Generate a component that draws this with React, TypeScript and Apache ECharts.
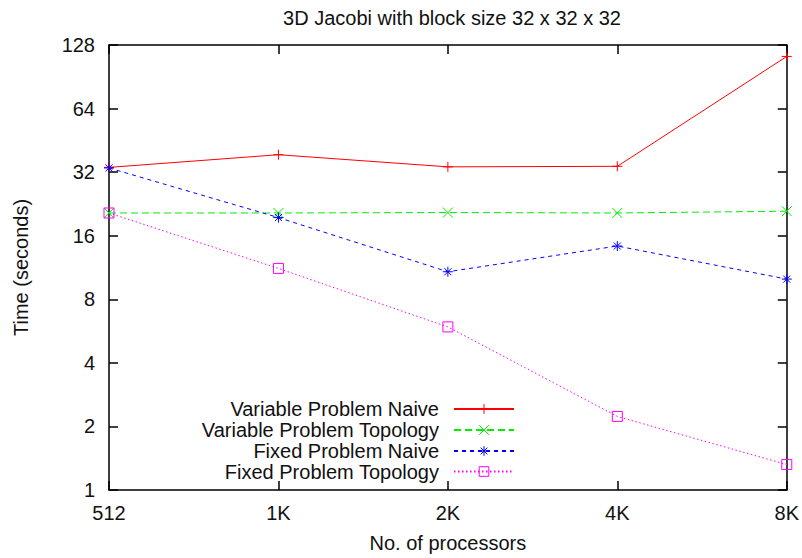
import React, { useEffect, useRef } from "react";
import * as echarts from "echarts";

const categories = ["512", "1K", "2K", "4K", "8K"];
const variableNaive = [33.7, 38.7, 33.9, 34.1, 113];
const variableTopology = [20.5, 20.5, 20.6, 20.5, 20.9];
const fixedNaive = [33.5, 19.5, 10.8, 14.3, 9.97];
const fixedTopology = [20.5, 11.2, 5.92, 2.23, 1.32];
const seriesNames = [
  "Variable Problem Naive",
  "Variable Problem Topology",
  "Fixed Problem Naive",
  "Fixed Problem Topology",
];

const FONT = "'Liberation Sans', Arial, Helvetica, sans-serif";
const FS = 20;

const PLUS = "path://M0,5L10,5M5,0L5,10";
const CROSS = "path://M0,0L10,10M0,10L10,0";
const STAR = "path://M0,5L10,5M5,0L5,10M1.5,1.5L8.5,8.5M1.5,8.5L8.5,1.5";
const SQUARE = "path://M0,0L10,0L10,10L0,10Z";

export default function App() {
  const ref = useRef<HTMLDivElement>(null);
  useEffect(() => {
    if (!ref.current) return;
    const chart = echarts.init(ref.current, undefined, { renderer: "svg" });
    const specs = [
      { name: seriesNames[0], data: variableNaive, color: "#ff0000", dash: "solid" as any, symbol: PLUS },
      { name: seriesNames[1], data: variableTopology, color: "#00ee00", dash: [7, 4], symbol: CROSS },
      { name: seriesNames[2], data: fixedNaive, color: "#0000ff", dash: [4, 4], symbol: STAR },
      { name: seriesNames[3], data: fixedTopology, color: "#ff00ff", dash: [1.5, 2.5], symbol: SQUARE },
    ];
    const rows = [409, 430, 451, 471.5];
    const axisLine = { show: true, lineStyle: { color: "#000", width: 1.5 } };
    const tick = { show: true, inside: true, length: 9, lineStyle: { color: "#000", width: 1.5 } };
    chart.setOption({
      animation: false,
      backgroundColor: "#fff",
      title: {
        text: "3D Jacobi with block size 32 x 32 x 32",
        left: 447,
        top: 3,
        textAlign: "center",
        textStyle: { fontFamily: FONT, fontSize: FS, fontWeight: "normal", color: "#111" },
      },
      grid: { left: 109, right: 15, top: 45, bottom: 66, containLabel: false },
      legend: specs.map((s, i) => ({
        data: [s.name],
        orient: "horizontal",
        align: "right",
        right: 802 - 515,
        top: rows[i] - 10,
        padding: 0,
        itemWidth: 60,
        itemHeight: 12,
        selectedMode: false,
        textStyle: { fontFamily: FONT, fontSize: 20, lineHeight: 20, color: "#111", padding: [0, 10, 0, 0] },
        itemStyle: { borderWidth: 1 },
      })),
      xAxis: [
        {
          type: "category",
          data: categories,
          boundaryGap: false,
          position: "bottom",
          axisLine,
          axisTick: { ...tick, alignWithLabel: true },
          axisLabel: { fontFamily: FONT, fontSize: FS, color: "#111", margin: 13 },
          splitLine: { show: false },
          name: "No. of processors",
          nameLocation: "middle",
          nameGap: 43,
          nameTextStyle: { fontFamily: FONT, fontSize: FS, color: "#111" },
        },
        {
          type: "category",
          data: categories,
          boundaryGap: false,
          position: "top",
          axisLine,
          axisTick: tick,
          axisLabel: { show: false },
          splitLine: { show: false },
        },
      ],
      yAxis: [
        {
          type: "log",
          logBase: 2,
          min: 1,
          max: 128,
          splitNumber: 7,
          position: "left",
          axisLine,
          axisTick: tick,
          axisLabel: { fontFamily: FONT, fontSize: FS, color: "#111", margin: 14 },
          splitLine: { show: false },
          name: "Time (seconds)",
          nameLocation: "middle",
          nameGap: 78,
          nameRotate: 90,
          nameTextStyle: { fontFamily: FONT, fontSize: FS, color: "#111" },
        },
        {
          type: "log",
          logBase: 2,
          min: 1,
          max: 128,
          splitNumber: 7,
          position: "right",
          axisLine,
          axisTick: tick,
          axisLabel: { show: false },
          splitLine: { show: false },
        },
      ],
      series: specs.map((s) => ({
        name: s.name,
        type: "line",
        xAxisIndex: 0,
        yAxisIndex: 0,
        data: s.data,
        symbol: s.symbol,
        symbolSize: 10,
        showSymbol: true,
        lineStyle: { color: s.color, width: 1, type: s.dash },
        itemStyle: { color: "transparent", borderColor: s.color, borderWidth: 1 },
        emphasis: { disabled: true },
      })),
    });
    return () => chart.dispose();
  }, []);
  return <div ref={ref} style={{ width: 802, height: 558, position: "absolute", left: 0, top: 0 }} />;
}
